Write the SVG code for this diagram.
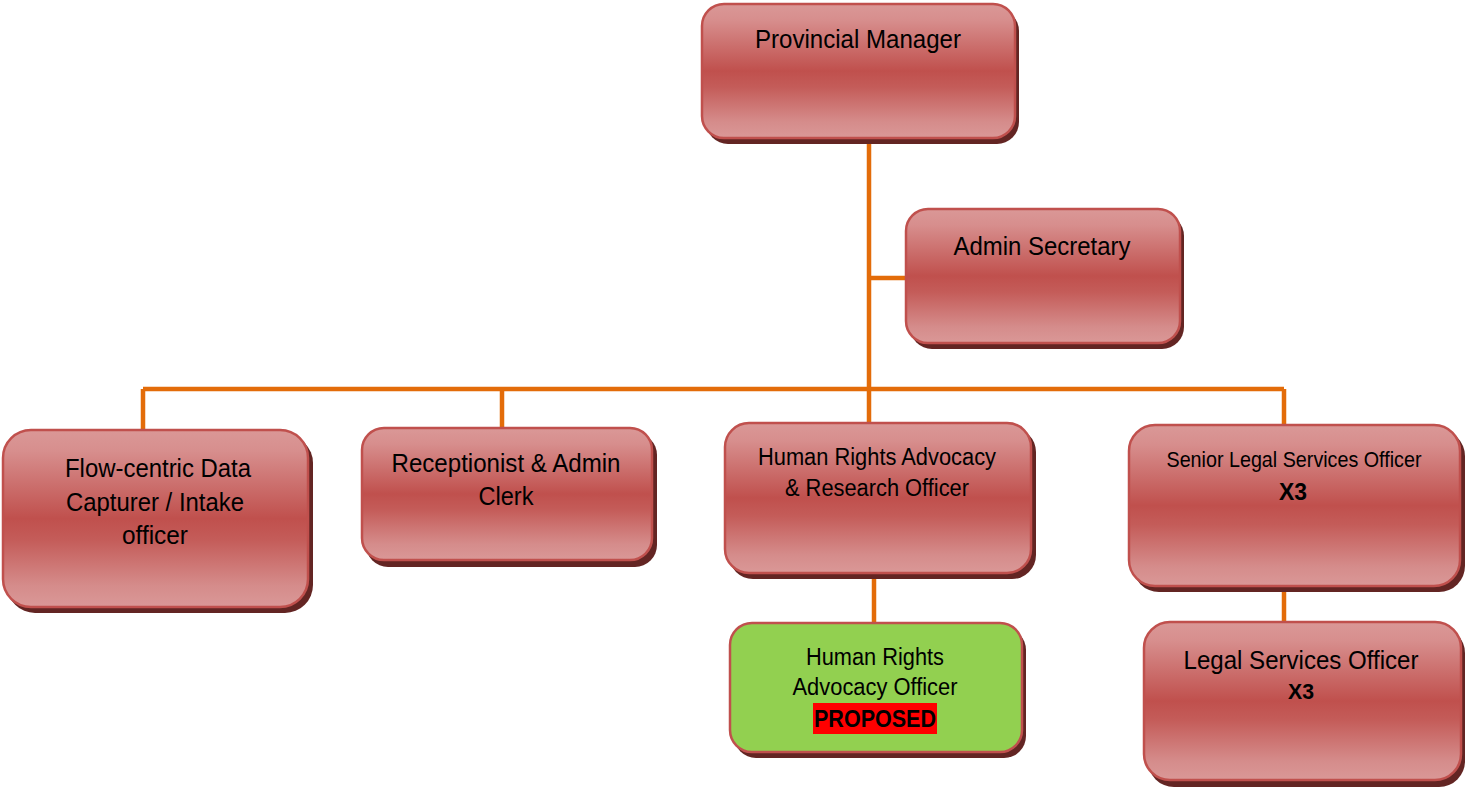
<svg xmlns="http://www.w3.org/2000/svg" width="1465" height="788" viewBox="0 0 1465 788">
<defs>
<linearGradient id="red" x1="0" y1="0" x2="0" y2="1">
<stop offset="0" stop-color="#DA9897"/>
<stop offset="0.12" stop-color="#D78E8D"/>
<stop offset="0.5" stop-color="#C0504D"/>
<stop offset="0.62" stop-color="#C45C59"/>
<stop offset="0.88" stop-color="#D58C8B"/>
<stop offset="1" stop-color="#DA9897"/>
</linearGradient>
<style>
.sh{fill:#632523}
.bx{fill:url(#red);stroke:#C0504D;stroke-width:2.5}
.gb{fill:#92D050;stroke:#C0504D;stroke-width:2.5}
.t{font-family:'Liberation Sans Narrow','Liberation Sans',sans-serif;fill:#000;text-anchor:middle}
.b{font-weight:bold}
.c{fill:none;stroke:#E36C09;stroke-width:4.5}
</style>
</defs>
<g id="connectors">
<path class="c" d="M869 138V423"/>
<path class="c" d="M869 278H906"/>
<path class="c" d="M143 389H1284"/>
<path class="c" d="M143 389V431M502 389V429M1284 389V426"/>
<path class="c" d="M874 573V624"/>
<path class="c" d="M1284 586V623"/>
</g>
<g id="n-provincial">
<rect class="sh" x="706" y="9" width="313" height="135" rx="22"/>
<rect class="bx" x="702" y="4" width="313" height="134" rx="22"/>
<text class="t" x="858" y="48" font-size="26" textLength="206" lengthAdjust="spacingAndGlyphs">Provincial Manager</text>
</g>
<g id="n-admin">
<rect class="sh" x="910" y="214" width="274" height="135" rx="22"/>
<rect class="bx" x="906" y="209" width="274" height="134" rx="22"/>
<text class="t" x="1042" y="255" font-size="26" textLength="177" lengthAdjust="spacingAndGlyphs">Admin Secretary</text>
</g>
<g id="n-flow">
<rect class="sh" x="7" y="435" width="306" height="178" rx="28"/>
<rect class="bx" x="3" y="430" width="305" height="177" rx="28"/>
<text class="t" x="158" y="477" font-size="25" textLength="186" lengthAdjust="spacingAndGlyphs">Flow-centric Data</text>
<text class="t" x="155" y="511" font-size="25" textLength="178" lengthAdjust="spacingAndGlyphs">Capturer / Intake</text>
<text class="t" x="155" y="544" font-size="25" textLength="66" lengthAdjust="spacingAndGlyphs">officer</text>
</g>
<g id="n-recept">
<rect class="sh" x="366" y="433" width="291" height="134" rx="22"/>
<rect class="bx" x="362" y="428" width="290" height="132" rx="22"/>
<text class="t" x="506" y="472" font-size="25" textLength="229" lengthAdjust="spacingAndGlyphs">Receptionist &amp; Admin</text>
<text class="t" x="506" y="505" font-size="25" textLength="55" lengthAdjust="spacingAndGlyphs">Clerk</text>
</g>
<g id="n-hrar">
<rect class="sh" x="729" y="428" width="307" height="151" rx="24"/>
<rect class="bx" x="725" y="423" width="306" height="150" rx="24"/>
<text class="t" x="877" y="465" font-size="23" textLength="238" lengthAdjust="spacingAndGlyphs">Human Rights Advocacy</text>
<text class="t" x="877" y="496" font-size="23" textLength="184" lengthAdjust="spacingAndGlyphs">&amp; Research Officer</text>
</g>
<g id="n-senior">
<rect class="sh" x="1133" y="430" width="332" height="162" rx="26"/>
<rect class="bx" x="1129" y="425" width="331" height="161" rx="26"/>
<text class="t" x="1294" y="467" font-size="22" textLength="255" lengthAdjust="spacingAndGlyphs">Senior Legal Services Officer</text>
<text class="t b" x="1293" y="500" font-size="23" textLength="28" lengthAdjust="spacingAndGlyphs">X3</text>
</g>
<g id="n-hra">
<rect class="sh" x="734" y="628" width="292" height="130" rx="22"/>
<rect class="gb" x="730" y="623" width="292" height="129" rx="22"/>
<text class="t" x="875" y="665" font-size="23" textLength="138" lengthAdjust="spacingAndGlyphs">Human Rights</text>
<text class="t" x="875" y="695" font-size="23" textLength="165" lengthAdjust="spacingAndGlyphs">Advocacy Officer</text>
<rect x="813" y="703" width="124" height="31" fill="#FF0000"/>
<text class="t b" x="875" y="727" font-size="24" textLength="122" lengthAdjust="spacingAndGlyphs">PROPOSED</text>
</g>
<g id="n-lso">
<rect class="sh" x="1148" y="627" width="317" height="160" rx="26"/>
<rect class="bx" x="1144" y="622" width="317" height="158" rx="26"/>
<text class="t" x="1301" y="669" font-size="26" textLength="235" lengthAdjust="spacingAndGlyphs">Legal Services Officer</text>
<text class="t b" x="1301" y="699" font-size="22" textLength="26" lengthAdjust="spacingAndGlyphs">X3</text>
</g>
</svg>
